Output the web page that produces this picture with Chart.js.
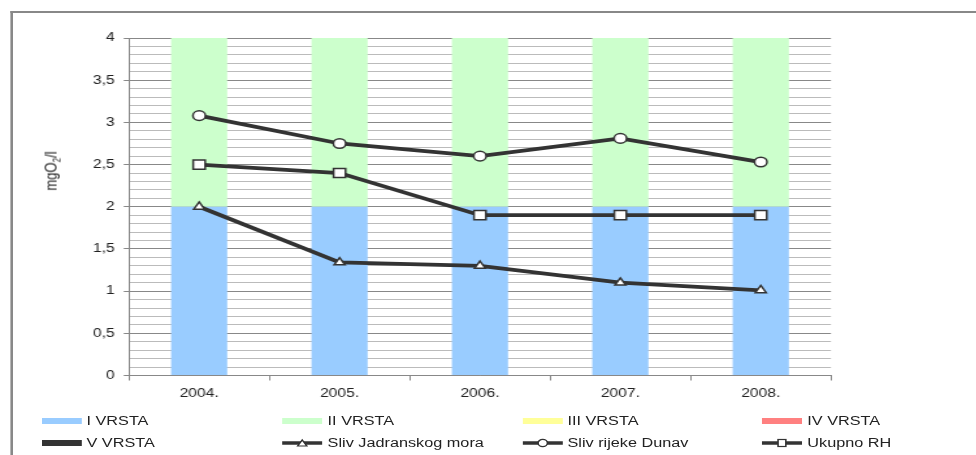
<!DOCTYPE html>
<html>
<head>
<meta charset="utf-8">
<script src="https://cdn.jsdelivr.net/npm/chart.js@4/dist/chart.umd.min.js"></script>
<style>
html,body{margin:0;padding:0;background:#fff;overflow:hidden;}
body{width:976px;height:455px;}
/* the whole picture is drawn 751 wide and stretched to 976 */
#wrap{position:absolute;left:0;top:0;width:751px;height:455px;transform:scaleX(1.3);transform-origin:0 0;}
#frame{position:absolute;left:8px;top:11px;width:900px;height:600px;border-left:2px solid #888;border-top:2px solid #888;}
#cv{position:absolute;left:0;top:0;}
#ytitle{position:absolute;left:40px;top:171px;transform:translate(-50%,-50%) rotate(-90deg);font:13px "Liberation Sans",Arial,sans-serif;color:#222;white-space:nowrap;}
#legend{position:absolute;left:0;top:0;font:12.5px "Liberation Sans",Arial,sans-serif;color:#222;}
.item{position:absolute;height:16px;display:flex;align-items:center;white-space:nowrap;}
.item svg{margin-right:4px;}
</style>
</head>
<body>
<div id="wrap">
<div id="frame"></div>
<canvas id="cv" width="751" height="455"></canvas>
<div id="ytitle">mgO<sub style="font-size:8px">2</sub>/l</div>
<div id="legend"></div>
</div>
<script>

const years = ['2004.','2005.','2006.','2007.','2008.'];

// classes (stacked bars)
const vrstaI   = [2,2,2,2,2];
const vrstaII  = [2,2,2,2,2];
const vrstaIII = [0,0,0,0,0];
const vrstaIV  = [0,0,0,0,0];
const vrstaV   = [0,0,0,0,0];

// measured lines
const jadran = [2.0,1.34,1.3,1.1,1.01];
const dunav  = [3.08,2.75,2.6,2.81,2.53];
const ukupno = [2.5,2.4,1.9,1.9,1.9];

const barNames  = ['I VRSTA','II VRSTA','III VRSTA','IV VRSTA','V VRSTA'];
const barColors = ['#99CCFF','#CCFFCC','#FFFF99','#FF8080','#333333'];
const lineNames  = ['Sliv Jadranskog mora','Sliv rijeke Dunav','Ukupno RH'];
const lineShapes = ['triangle','circle','rect'];

const barData = [vrstaI,vrstaII,vrstaIII,vrstaIV,vrstaV];
const lineData = [jadran,dunav,ukupno];
const shapeRadius = {triangle:4.8,circle:4.8,rect:6.5};

const datasets = [];
barData.forEach((d,i)=>{
datasets.push({
type:'bar',
label:barNames[i],
data:d,
backgroundColor:barColors[i],
borderWidth:0,
stack:'v',
yAxisID:'y',
order:2,
barPercentage:0.4,
categoryPercentage:1
});
});
lineData.forEach((d,i)=>{
datasets.push({
type:'line',
label:lineNames[i],
data:d,
borderColor:'#333',
borderWidth:3.8,
tension:0,
pointStyle:lineShapes[i],
pointRadius:shapeRadius[lineShapes[i]],
pointBackgroundColor:'#fff',
pointBorderColor:'#333',
pointBorderWidth:1.5,
yAxisID:'y2',
order:1
});
});

function isMajor(v){ return Math.abs(v*2-Math.round(v*2))<1e-6; }
const font = {family:'"Liberation Sans", Arial, sans-serif',size:12};

new Chart(document.getElementById('cv'),{
type:'bar',
data:{labels:years,datasets:datasets},
options:{
responsive:false,
animation:false,
devicePixelRatio:1,
layout:{padding:{left:0,right:111.8,top:38,bottom:0}},
plugins:{legend:{display:false},tooltip:{enabled:false},title:{display:false}},
scales:{
x:{
stacked:true,
offset:true,
grid:{display:true,drawOnChartArea:false,offset:true,tickLength:5,color:'#888'},
border:{color:'#888',width:1},
ticks:{font:font,color:'#222',padding:6},
afterFit:s=>{s.height=79.5;}
},
y:{
stacked:true,
min:0,max:4,
grid:{
color:c=>isMajor(c.tick.value)?'#888':'#bbb',
tickColor:c=>isMajor(c.tick.value)?'#888':'rgba(0,0,0,0)',
tickLength:4
},
border:{color:'#888',width:1},
ticks:{
stepSize:0.1,
autoSkip:false,
maxTicksLimit:100,
font:font,
color:'#222',
padding:7,
callback:v=>isMajor(v)?String(Math.round(v*10)/10).replace('.',','):''
},
afterFit:s=>{s.width=99.2;}
},
y2:{display:false,min:0,max:4}
}
}
});


// Legend (4 columns, 2 rows)
const leg = document.getElementById('legend');
const colX = [31.5,217,401.5,586];
const rowY = [413,435];

function swatchSvg(color){
return '<svg width="31" height="8"><rect x="0" y="1" width="31" height="6" fill="'+color+'"/></svg>';
}
function lineSvg(shape){
let m='';
if(shape==='triangle') m='<polygon points="15.5,2 19,8 12,8" fill="#fff" stroke="#333" stroke-width="1.2"/>';
if(shape==='circle') m='<circle cx="15.5" cy="5" r="3.6" fill="#fff" stroke="#333" stroke-width="1.2"/>';
if(shape==='rect') m='<rect x="12.5" y="1.5" width="6" height="7" fill="#fff" stroke="#333" stroke-width="1.2"/>';
return '<svg width="31" height="10"><line x1="0" y1="5" x2="31" y2="5" stroke="#333" stroke-width="3.5"/>'+m+'</svg>';
}

const items = [];
barNames.forEach((n,i)=>items.push({name:n,svg:swatchSvg(barColors[i])}));
lineNames.forEach((n,i)=>items.push({name:n,svg:lineSvg(lineShapes[i])}));

items.forEach((it,i)=>{
const d = document.createElement('div');
d.className='item';
d.style.left = colX[i%4]+'px';
d.style.top = rowY[Math.floor(i/4)]+'px';
d.innerHTML = it.svg+'<span>'+it.name+'</span>';
leg.appendChild(d);
});
</script>
</body>
</html>
